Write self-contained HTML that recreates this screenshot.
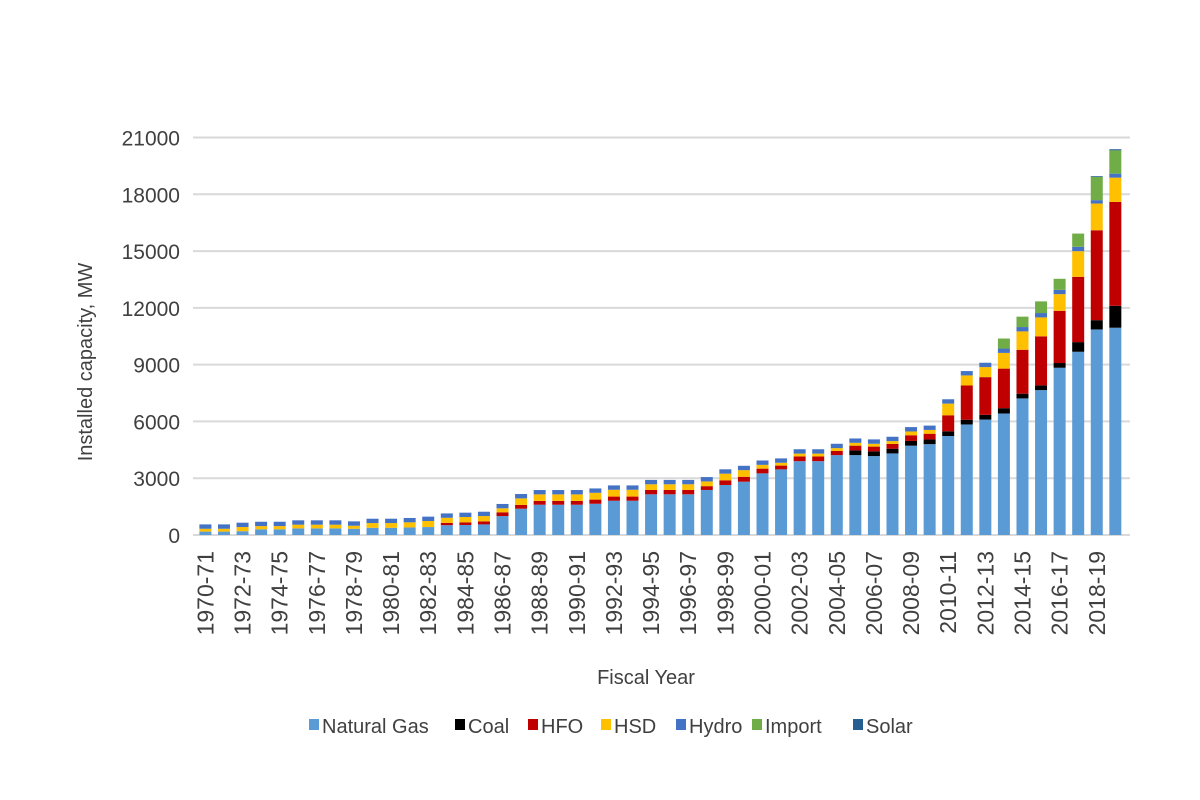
<!DOCTYPE html>
<html><head><meta charset="utf-8">
<style>
body{margin:0;background:#fff;}
#wrap{position:relative;width:1200px;height:800px;overflow:hidden;background:#fff;font-family:"Liberation Sans",sans-serif;color:#404040;}
svg text{font-family:"Liberation Sans",sans-serif;fill:#404040;}
</style></head>
<body>
<div id="wrap">
<svg id="chart" width="1200" height="800"></svg>
</div>
<script>
const categories=["1970-71","1971-72","1972-73","1973-74","1974-75","1975-76","1976-77","1977-78","1978-79","1979-80","1980-81","1981-82","1982-83","1983-84","1984-85","1985-86","1986-87","1987-88","1988-89","1989-90","1990-91","1991-92","1992-93","1993-94","1994-95","1995-96","1996-97","1997-98","1998-99","1999-00","2000-01","2001-02","2002-03","2003-04","2004-05","2005-06","2006-07","2007-08","2008-09","2009-10","2010-11","2011-12","2012-13","2013-14","2014-15","2015-16","2016-17","2017-18","2018-19","2019-20"];
const gas=[180,180,200,300,300,350,350,350,330,380,380,400,420,520,530,560,1000,1390,1600,1600,1600,1650,1810,1810,2150,2150,2150,2380,2640,2816,3256,3467,3900,3900,4220,4220,4170,4310,4720,4800,5230,5840,6100,6420,7216,7656,8835,9680,10860,10950];
const coal=[0,0,0,0,0,0,0,0,0,0,0,0,0,0,0,0,0,0,0,0,0,0,0,0,0,0,0,0,0,0,0,0,0,0,0,250,250,250,250,250,250,250,250,280,250,250,250,510,490,1160];
const hfo=[0,0,0,0,0,0,0,0,0,0,0,0,0,120,140,160,200,200,200,200,200,220,220,220,230,230,230,200,250,260,250,200,250,250,220,250,250,250,300,300,845,1810,1990,2090,2320,2590,2760,3450,4750,5490];
const hsd=[150,150,220,170,170,195,195,195,160,250,250,270,320,270,280,280,210,345,346,346,346,360,360,360,300,300,300,250,350,350,200,150,150,150,150,150,150,150,200,200,616,530,530,830,970,1000,880,1355,1410,1280];
const hydro=[230,230,230,230,230,230,230,230,230,230,230,230,230,230,230,230,230,230,230,230,230,230,230,230,230,230,230,230,230,230,230,230,230,230,230,230,230,230,230,230,230,230,230,230,230,230,230,230,180,210];
const imports=[0,0,0,0,0,0,0,0,0,0,0,0,0,0,0,0,0,0,0,0,0,0,0,0,0,0,0,0,0,0,0,0,0,0,0,0,0,0,0,0,0,0,0,530,550,616,580,700,1230,1230];
const solar=[0,0,0,0,0,0,0,0,0,0,0,0,0,0,0,0,0,0,0,0,0,0,0,0,0,0,0,0,0,0,0,0,0,0,0,0,0,0,0,0,0,0,0,0,0,0,0,0,40,60];
const yTicks=[0,3000,6000,9000,12000,15000,18000,21000];
const seriesNames=["Natural Gas","Coal","HFO","HSD","Hydro","Import","Solar"];
const seriesData=[gas,coal,hfo,hsd,hydro,imports,solar];
const colors=["#5b9bd5","#000000","#c00000","#ffc000","#4472c4","#70ad47","#255e91"];

const NS="http://www.w3.org/2000/svg";
const svg=document.getElementById('chart');
const X0=205.4, STEP=18.57, BW=12, Y0=535, YTOP=137.5, YMAX=21000;
const xPos=i=>X0+i*STEP;
const yPos=v=>Y0-(v/YMAX)*(Y0-YTOP);
function mk(tag,attrs){const e=document.createElementNS(NS,tag);for(const k in attrs)e.setAttribute(k,attrs[k]);svg.appendChild(e);return e;}

yTicks.forEach(t=>{
  const g=mk('line',{x1:193,x2:1130,y1:yPos(t),y2:yPos(t),stroke:'#d9d9d9','stroke-width':2});
  
  
  const l=mk('text',{x:180,y:yPos(t)+8,'text-anchor':'end','font-size':21});
  l.textContent=t;
  
  
});

categories.forEach((c,i)=>{
  let base=0;
  seriesData.forEach((s,k)=>{
    const v=s[i];
    if(v>0){
      const r=mk('rect',{x:xPos(i)-BW/2,y:yPos(base+v),width:BW,height:yPos(base)-yPos(base+v),fill:colors[k]});
      
      
    }
    base+=v;
  });
  if(i%2===0){
    const t=mk('text',{x:0,y:0,'text-anchor':'end','font-size':23,transform:`translate(${xPos(i)+8},551) rotate(-90)`});
    t.textContent=c;
    
    
  }
});

const yt=mk('text',{x:0,y:0,'text-anchor':'middle','font-size':20,transform:'translate(92,362) rotate(-90)'});
yt.textContent='Installed capacity, MW';


const xt=mk('text',{x:646,y:684,'text-anchor':'middle','font-size':20});
xt.textContent='Fiscal Year';



const legX=[309,455,528,601,676,752,853];
seriesNames.forEach((n,k)=>{
  const r=mk('rect',{x:legX[k],y:719,width:10,height:11,fill:colors[k]});
  
  
  const t=mk('text',{x:legX[k]+13,y:733,'font-size':20});
  t.textContent=n;
  
  
});
</script>
</body></html>
